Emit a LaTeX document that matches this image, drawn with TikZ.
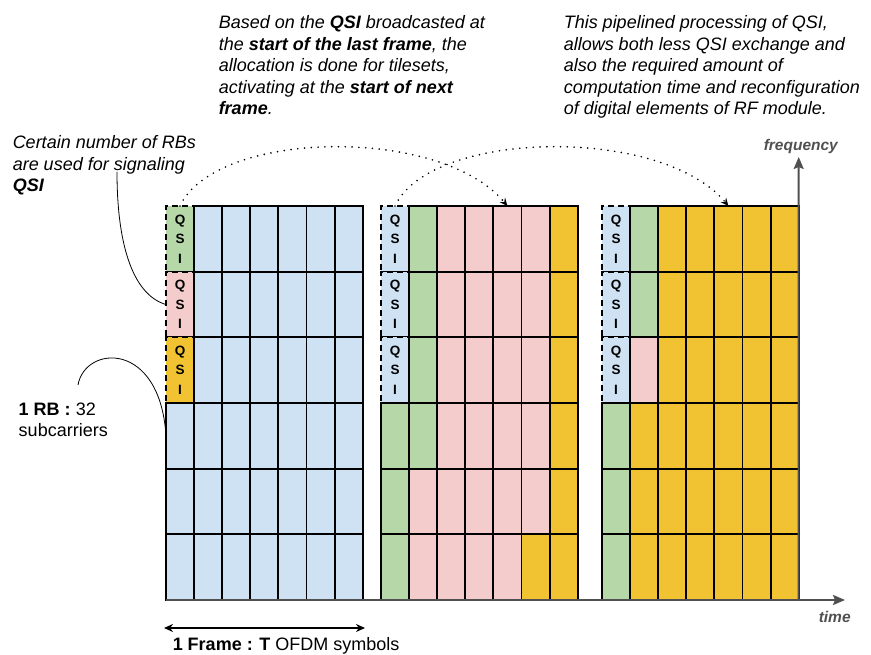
\documentclass[tikz,border=0pt]{standalone}
\usepackage{fontspec}
\setmainfont{Liberation Sans}
\usetikzlibrary{arrows.meta}
\definecolor{tileblue}{HTML}{CFE2F3}
\definecolor{tilegreen}{HTML}{B6D7A8}
\definecolor{tilepink}{HTML}{F4CCCC}
\definecolor{tileyellow}{HTML}{F1C232}
\definecolor{axisgray}{HTML}{505050}

\begin{document}
\begin{tikzpicture}[x=1pt, y=-1pt, line width=1.5pt,
	tile/.style={draw, rectangle, anchor=north west, inner sep=0pt, outer sep=0pt,
		line width=1.9pt, minimum width=28.1pt, minimum height=65.67pt},
	tB/.style={tile, fill=tileblue}, tG/.style={tile, fill=tilegreen},
	tP/.style={tile, fill=tilepink}, tY/.style={tile, fill=tileyellow},
	qsitext/.style={align=center, inner sep=0pt, font=\fontsize{13.5}{19.5}\selectfont\bfseries},
	qsi/.style={tile, dash pattern=on 6pt off 4pt, label={[qsitext]center:Q\\S\\I}},
	qB/.style={qsi, fill=tileblue}, qG/.style={qsi, fill=tilegreen},
	qP/.style={qsi, fill=tilepink}, qY/.style={qsi, fill=tileyellow},
	note/.style={anchor=north west, align=left, inner sep=0pt, font=\fontsize{18}{21.5}\selectfont},
	inote/.style={note, font=\fontsize{18}{21.5}\selectfont\itshape},
	axislabel/.style={anchor=north west, inner sep=0pt, text=axisgray,
		font=\fontsize{15.5}{18}\selectfont\bfseries\itshape},
	signal/.style={line width=1.8pt, line cap=round, dash pattern=on 0pt off 6.8pt,
		-{Stealth[length=8pt, width=7pt, inset=3pt]}},
	callout/.style={line width=0.8pt},
	axis/.style={draw=axisgray, line width=2pt, -{Stealth[length=12pt, width=10pt, inset=2pt]}}]
	\useasboundingbox (0,0) rectangle (871,655);

	% frame 1
	\foreach \cells [count=\c from 0] in {{qG,qP,qY,tB,tB,tB},{tB,tB,tB,tB,tB,tB},{tB,tB,tB,tB,tB,tB},
		{tB,tB,tB,tB,tB,tB},{tB,tB,tB,tB,tB,tB},{tB,tB,tB,tB,tB,tB},{tB,tB,tB,tB,tB,tB}}
		\foreach \cl [count=\r from 0] in \cells
			\node[\cl] (f1-\c-\r) at (166+28.1*\c, 206+65.67*\r) {};
	% frame 2
	\foreach \cells [count=\c from 0] in {{qB,qB,qB,tG,tG,tG},{tG,tG,tG,tG,tP,tP},{tP,tP,tP,tP,tP,tP},
		{tP,tP,tP,tP,tP,tP},{tP,tP,tP,tP,tP,tP},{tP,tP,tP,tP,tP,tY},{tY,tY,tY,tY,tY,tY}}
		\foreach \cl [count=\r from 0] in \cells
			\node[\cl] (f2-\c-\r) at (381+28.1*\c, 206+65.67*\r) {};
	% frame 3
	\foreach \cells [count=\c from 0] in {{qB,qB,qB,tG,tG,tG},{tG,tG,tP,tY,tY,tY},{tY,tY,tY,tY,tY,tY},
		{tY,tY,tY,tY,tY,tY},{tY,tY,tY,tY,tY,tY},{tY,tY,tY,tY,tY,tY},{tY,tY,tY,tY,tY,tY}}
		\foreach \cl [count=\r from 0] in \cells
			\node[\cl] (f3-\c-\r) at (602+28.1*\c, 206+65.67*\r) {};

	\draw[signal] (f1-0-0.north) .. controls +(35,-76) and +(-67,-81) .. (f2-4-0.north);
	\draw[signal] (f2-0-0.north) .. controls +(35,-76) and +(-67,-81) .. (f3-4-0.north);

	\coordinate (O) at (166,600);
	\coordinate (T) at (845,600);
	\coordinate (F) at (798.7,157);
	\draw[axis] (O) -- (T);
	\draw[axis] (f3-6-5.south east) -- (F);
	\node[axislabel] (freq) at (763,139) {frequency};
	\node[axislabel] (time) at (818,611) {time};

	\node[inote] (sigtext) at (12,135) {Certain number of RBs\\are used for signaling\\\textbf{QSI}};
	\node[inote] (alloc) at (218,15) {Based on the \textbf{QSI} broadcasted at\\the \textbf{start of the last frame}, the\\allocation is done for tilesets,\\activating at the \textbf{start of next}\\\textbf{frame}.};
	\node[inote] (pipe) at (563,15) {This pipelined processing of QSI,\\allows both less QSI exchange and\\also the required amount of\\computation time and reconfiguration\\of digital elements of RF module.};
	\node[note] (rbtext) at (18,402) {\textbf{1 RB :} 32\\subcarriers};
	\node[note] (frametext) at (172,637) {\textbf{1 Frame : T} OFDM symbols};

	\coordinate (sig) at (117,172);
	\coordinate (rb) at (78,385);
	\draw[callout] (sig) .. controls +(0,78) and +(-31,-9) .. (f1-0-1.west);
	\draw[callout] (rb) .. controls +(7,-40) and +(-6,-96) .. (f1-0-3.west);

	\coordinate (fs) at (164,628);
	\coordinate (fe) at (365,628);
	\draw[{Stealth[length=9pt, width=8pt]}-{Stealth[length=9pt, width=8pt]}] (fs) -- (fe);
\end{tikzpicture}
\end{document}
